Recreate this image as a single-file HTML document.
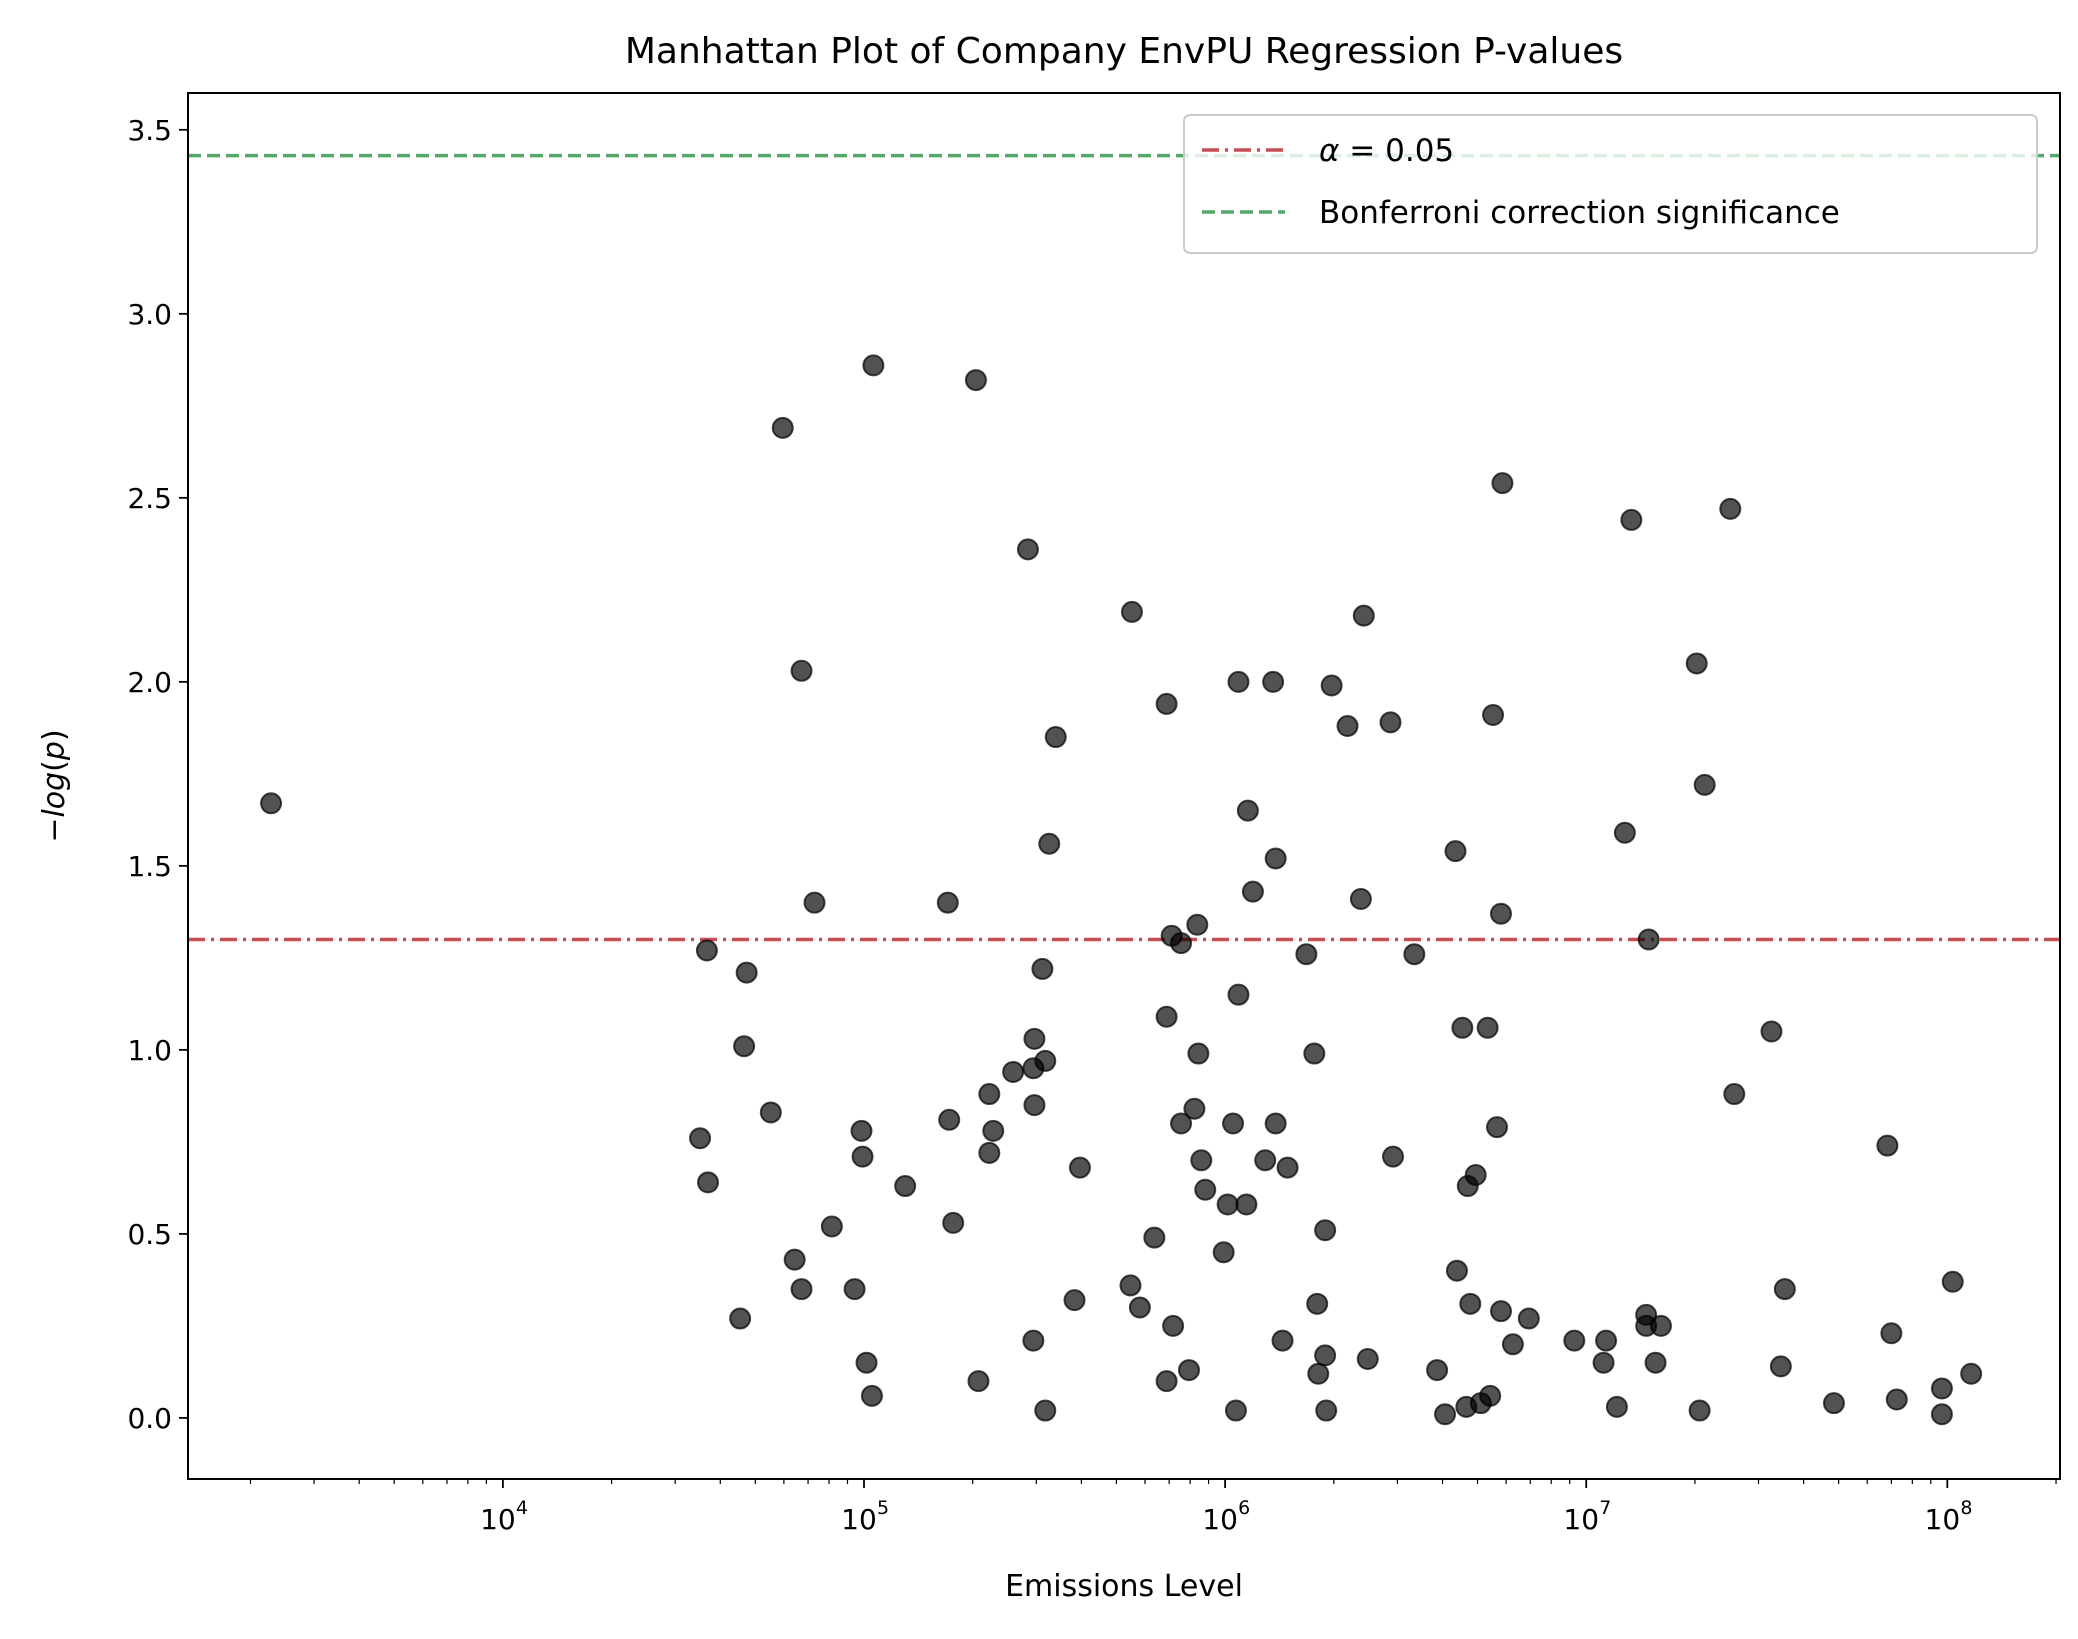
<!DOCTYPE html>
<html><head><meta charset="utf-8"><style>
html,body{margin:0;padding:0;background:#fff;}
svg{display:block;font-family:"DejaVu Sans","Liberation Sans",sans-serif;}
</style></head><body>
<svg id="chart" width="2078" height="1639" viewBox="0 0 2078 1639" xmlns="http://www.w3.org/2000/svg">
<rect width="2078" height="1639" fill="#fff"/>
<text x="1124" y="63" font-size="36" text-anchor="middle">Manhattan Plot of Company EnvPU Regression P-values</text>
<g id="grid"></g>
<g id="marks"></g>
<rect x="188" y="93" width="1872" height="1386" fill="none" stroke="#000" stroke-width="2"/>
<g id="axes"></g>
<text x="1124" y="1596" font-size="30" text-anchor="middle">Emissions Level</text>
<text transform="translate(64,786) rotate(-90)" font-size="30" text-anchor="middle">−<tspan font-style="italic">log</tspan>(<tspan font-style="italic">p</tspan>)</text>
<g>
<rect x="1184" y="115" width="853" height="138" rx="6" fill="#fff" fill-opacity="0.8" stroke="#ccc" stroke-width="2"/>
<line x1="1202" y1="150" x2="1285" y2="150" stroke="#c44e52" stroke-width="3.5" stroke-dasharray="17,6,3,6"/>
<text x="1319" y="161" font-size="31"><tspan font-style="italic">α</tspan> = 0.05</text>
<line x1="1202" y1="212" x2="1285" y2="212" stroke="#55a868" stroke-width="3.5" stroke-dasharray="13,6"/>
<text x="1319" y="223" font-size="31">Bonferroni correction significance</text>
</g>
</svg>
<script>
const logEmissions = [3.358,4.565,4.546,4.568,4.675,4.668,4.657,4.742,4.775,4.827,4.808,4.827,4.863,4.911,4.974,4.993,4.996,5.007,5.022,5.026,5.114,5.232,5.236,5.247,5.31,5.317,5.347,5.358,5.347,5.413,5.454,5.469,5.472,5.472,5.502,5.494,5.513,5.531,5.469,5.502,5.583,5.598,5.742,5.738,5.764,5.804,5.838,5.838,5.852,5.878,5.856,5.838,5.900,5.878,5.915,5.923,5.926,5.934,5.945,5.996,6.007,6.022,6.037,6.037,6.030,6.059,6.063,6.077,6.111,6.133,6.140,6.140,6.173,6.159,6.225,6.247,6.255,6.258,6.277,6.277,6.280,6.295,6.339,6.376,6.384,6.395,6.458,6.465,6.524,6.587,6.609,6.642,6.638,6.657,6.668,6.672,6.679,6.694,6.708,6.727,6.734,6.742,6.753,6.764,6.768,6.764,6.797,6.841,6.967,7.048,7.055,7.085,7.107,7.125,7.166,7.166,7.173,7.192,7.207,7.306,7.314,7.328,7.399,7.410,7.513,7.539,7.550,7.686,7.834,7.845,7.860,7.985,7.985,8.015,8.066];
const negLogP = [1.67,1.27,0.76,0.64,1.21,1.01,0.27,0.83,2.69,2.03,0.43,0.35,1.40,0.52,0.35,0.78,0.71,0.15,0.06,2.86,0.63,1.40,0.81,0.53,2.82,0.10,0.88,0.78,0.72,0.94,2.36,0.95,1.03,0.85,0.97,1.22,1.56,1.85,0.21,0.02,0.32,0.68,2.19,0.36,0.30,0.49,1.94,1.09,1.31,1.29,0.25,0.10,0.13,0.80,0.84,1.34,0.99,0.70,0.62,0.45,0.58,0.80,2.00,1.15,0.02,0.58,1.65,1.43,0.70,2.00,1.52,0.80,0.68,0.21,1.26,0.99,0.31,0.12,0.51,0.17,0.02,1.99,1.88,1.41,2.18,0.16,1.89,0.71,1.26,0.13,0.01,0.40,1.54,1.06,0.03,0.63,0.31,0.66,0.04,1.06,0.06,1.91,0.79,0.29,2.54,1.37,0.20,0.27,0.21,0.15,0.21,0.03,1.59,2.44,0.28,0.25,1.30,0.15,0.25,2.05,0.02,1.72,2.47,0.88,1.05,0.14,0.35,0.04,0.74,0.23,0.05,0.08,0.01,0.37,0.12];
const yTicks = [0.0,0.5,1.0,1.5,2.0,2.5,3.0,3.5];
const xDecades = [4,5,6,7,8];
const alphaLevel = 1.30;
const bonferroniLevel = 3.43;

const NS='http://www.w3.org/2000/svg';
const L=188,R=2060,T=93,B=1479;
const xMin=3.128,xMax=8.312,yMin=-0.166,yMax=3.6;
function sx(lg){return L+(lg-xMin)/(xMax-xMin)*(R-L);}
function sy(v){return B-(v-yMin)/(yMax-yMin)*(B-T);}
function mk(tag,attrs,parent){const e=document.createElementNS(NS,tag);for(const k in attrs)e.setAttribute(k,attrs[k]);parent.appendChild(e);return e;}
const grid=document.getElementById('grid'),marks=document.getElementById('marks'),axes=document.getElementById('axes');

let l=mk('line',{x1:L,x2:R,y1:sy(bonferroniLevel),y2:sy(bonferroniLevel),stroke:'#55a868','stroke-width':3.5,'stroke-dasharray':'13,6'},grid);


l=mk('line',{x1:L,x2:R,y1:sy(alphaLevel),y2:sy(alphaLevel),stroke:'#c44e52','stroke-width':3.5,'stroke-dasharray':'17,6,3,6'},grid);



for(let i=0;i<logEmissions.length;i++){
  const c=mk('circle',{cx:sx(logEmissions[i]),cy:sy(negLogP[i]),r:10,fill:'rgba(0,0,0,0.68)',stroke:'rgba(0,0,0,0.7)','stroke-width':2},marks);
  
  
}
yTicks.forEach(v=>{
  const y=sy(v);
  mk('line',{x1:L-9,x2:L,y1:y,y2:y,stroke:'#000','stroke-width':1.8},axes);
  const t=mk('text',{x:L-16,y:y+10,'font-size':28,'text-anchor':'end'},axes);
  t.textContent=v.toFixed(1);
  
  
});
for(let d=3;d<=8;d++){
  for(let m=1;m<=9;m++){
    const lg=d+Math.log10(m);
    if(lg<xMin||lg>xMax)continue;
    const x=sx(lg);
    mk('line',{x1:x,x2:x,y1:B,y2:B+(m===1?9:5),stroke:'#000','stroke-width':m===1?1.8:1.2},axes);
  }
}
xDecades.forEach(d=>{
  const x=sx(d);
  const t=mk('text',{x:x-5,y:B+50,'font-size':28,'text-anchor':'middle'},axes);
  t.textContent='10';
  
  
  const s=mk('text',{x:x+13,y:B+35,'font-size':19},axes);
  s.textContent=String(d);
});
</script>
</body></html>
